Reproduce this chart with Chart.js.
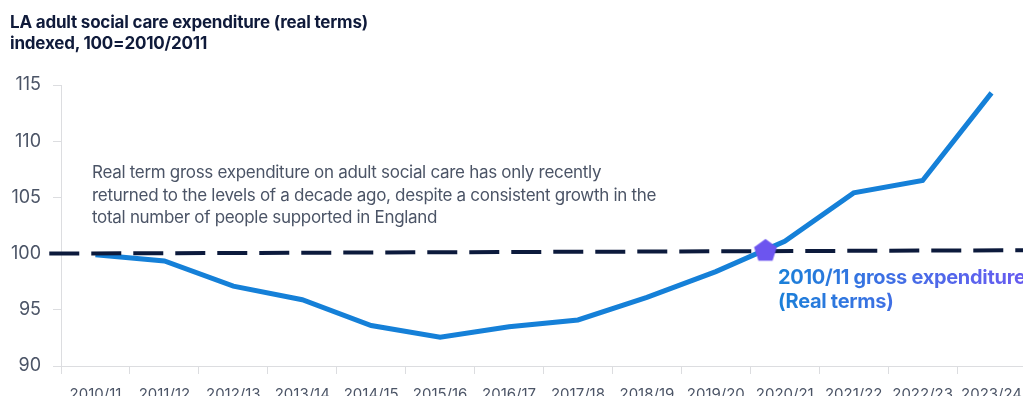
<!DOCTYPE html>
<html>
<head>
<meta charset="utf-8">
<script src="https://cdn.jsdelivr.net/npm/chart.js@4"></script>
<style>
  body { margin: 0; width: 1023px; height: 396px; overflow: hidden; background: #fff; font-family: Inter, "Noto Sans", sans-serif; position: relative; }
  #wrap { position: absolute; left: 0; top: 0; width: 1040px; height: 396px; }
  .title { position: absolute; left: 10px; top: 12px; font-weight: 700; font-size: 17px; line-height: 21px; color: #0f1a3a; letter-spacing: -0.2px; }
  .note { position: absolute; left: 92px; top: 161px; font-size: 17px; line-height: 22.5px; color: #4b5466; letter-spacing: -0.3px; }
  .mark { position: absolute; left: 778px; top: 265px; width: 270px; font-weight: 700; font-size: 20px; line-height: 24px; letter-spacing: -0.3px;
          background: linear-gradient(90deg, #1a80d8 0%, #5d62ee 75%, #6b57f0 100%); -webkit-background-clip: text; background-clip: text; color: transparent; white-space: nowrap; }
</style>
</head>
<body>
<div id="wrap"><canvas id="spendChart"></canvas></div>
<div class="title">LA adult social care expenditure (real terms)<br>indexed, 100=2010/2011</div>
<div class="note">Real term gross expenditure on adult social care has only recently<br>returned to the levels of a decade ago, despite a consistent growth in the<br>total number of people supported in England</div>
<div class="mark">2010/11 gross expenditure<br>(Real terms)</div>
<script>
// financial years (x axis)
const years = ['2010/11','2011/12','2012/13','2013/14','2014/15','2015/16','2016/17',
               '2017/18','2018/19','2019/20','2020/21','2021/22','2022/23','2023/24'];
// index, 100 = 2010/11
const spend = [99.9, 99.35, 97.1, 95.9, 93.6, 92.55, 93.5, 94.1, 96.1, 98.4, 101.1, 105.4, 106.5, 114.3];
// dashed 2010/11 reference line (x in category index units)
const baseX = [-0.67, 13.6];
const baseY = [100.0, 100.3];
// where the line crosses back over the baseline
const markX = [9.72];
const markY = [100.3];
const yTicks = [90, 95, 100, 105, 110, 115];

// pentagon marker
const pent = document.createElement('canvas');
pent.width = 26; pent.height = 26;
(function () {
  const c = pent.getContext('2d');
  c.fillStyle = '#6c55ef';
  c.beginPath();
  for (let i = 0; i < 5; i++) {
    const a = -Math.PI / 2 + i * 2 * Math.PI / 5;
    const px = 13 + 12 * Math.cos(a), py = 13.8 + 12 * Math.sin(a);
    i === 0 ? c.moveTo(px, py) : c.lineTo(px, py);
  }
  c.closePath();
  c.fill();
})();

const gridCol = '#dcdde0';
const tickCol = '#4b5466';

new Chart('spendChart', {
  type: 'line',
  data: {
    labels: years,
    datasets: [
      {
        label: 'marker',
        data: markX.map((x, i) => ({ x: x, y: markY[i] })),
        xAxisID: 'x2',
        showLine: false,
        pointStyle: pent,
        pointRadius: 13,
        clip: false,
        order: 0
      },
      {
        label: '2010/11 level',
        data: baseX.map((x, i) => ({ x: x, y: baseY[i] })),
        xAxisID: 'x2',
        borderColor: '#0c1a3c',
        borderWidth: 4,
        borderDash: [30, 12],
        pointRadius: 0,
        fill: false,
        clip: false,
        order: 1
      },
      {
        label: 'Expenditure',
        data: spend,
        xAxisID: 'x',
        borderColor: '#1580d8',
        borderWidth: 5,
        pointRadius: 0,
        tension: 0,
        fill: false,
        order: 2
      }
    ]
  },
  options: {
    responsive: true,
    maintainAspectRatio: false,
    animation: false,
    layout: { padding: { left: 0, top: 85, right: 9, bottom: 0 } },
    plugins: { legend: { display: false }, tooltip: { enabled: false }, title: { display: false } },
    scales: {
      x: {
        type: 'category',
        offset: true,
        grid: { display: true, drawOnChartArea: false, offset: true, tickLength: 8, color: gridCol },
        border: { color: gridCol },
        ticks: { color: tickCol, font: { family: 'Inter', size: 15 }, padding: 11, maxRotation: 0, autoSkip: false },
        afterFit: s => { s.height = 30; }
      },
      x2: { type: 'linear', min: -0.5, max: 13.5, display: false },
      y: {
        min: 90, max: 115,
        afterBuildTicks: s => { s.ticks = yTicks.map(v => ({ value: v })); },
        grid: { display: true, drawOnChartArea: false, tickLength: 8, color: gridCol },
        border: { color: gridCol },
        ticks: { color: tickCol, font: { family: 'Inter', size: 18 }, padding: 12 },
        afterFit: s => { s.width = 61; }
      }
    }
  }
});
</script>
</body>
</html>
